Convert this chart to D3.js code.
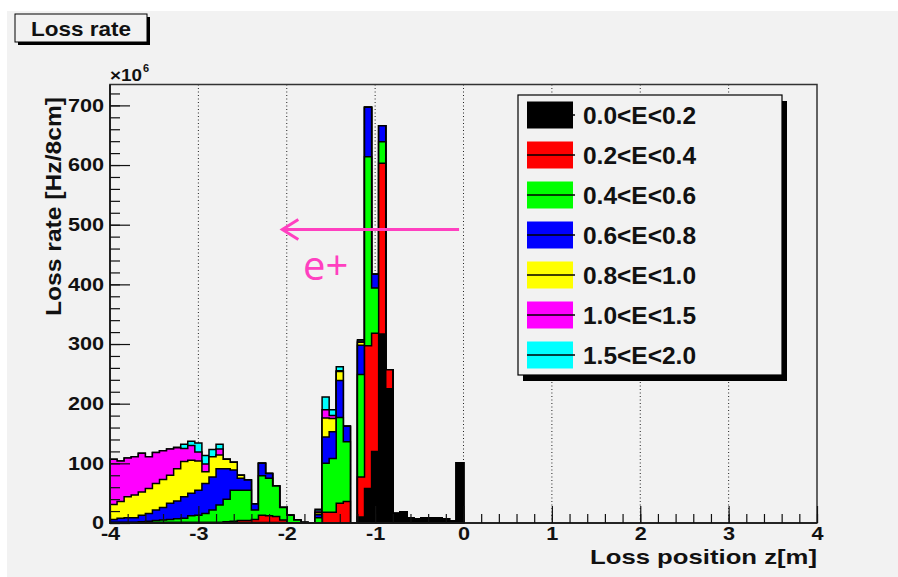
<!DOCTYPE html>
<html>
<head>
<meta charset="utf-8">
<script src="https://d3js.org/d3.v7.min.js"></script>
<style>
body { margin: 0; background: #ffffff; }
svg { display: block; font-family: "Liberation Sans", Arial, Helvetica, sans-serif; }
</style>
</head>
<body>
<div id="chart"></div>
<script>
// 8 cm bins from z = -4.00 m up to z = 0.00 m (nothing is lost downstream of 0)
const zStart = -4;
const binWidth = 0.08;

// loss rate per bin, in units of 1e6 Hz / 8 cm, one array per energy slice
const lossE00_02 = [1,1,1,1,1,1,1,1,1,1, 1,1,1,1,1,1,1,1,1,1, 1,1,1,1,1,0,0,1,0,0, 0,0,0,0,0,10,58,120,317,225, 16,19,8,7,9,9,8,7,3,101];
const lossE02_04 = [0,0,0,0,0,0,0,0,0,0, 0,0,0,0,0,0,1,2,3,3, 5,12,11,10,4,0,0,0,0,0, 18,18,33,36,0,67,239,198,286,32, 0,0,0,0,0,0,0,0,0,0];
const lossE04_06 = [0,0,0,0,1,2,3,4,5,6, 7,11,12,15,21,29,38,52,51,51, 16,66,63,51,21,13,5,0,0,9, 82,90,144,100,0,172,317,76,36,0, 0,0,0,0,0,0,0,0,0,0];
const lossE06_08 = [5,7,8,8,11,13,18,21,27,30, 36,38,42,50,55,61,51,34,20,17, 10,21,8,0,0,0,0,0,0,5, 44,45,62,26,0,49,83,23,27,0, 0,0,0,0,0,0,0,0,0,0];
const lossE08_10 = [25,28,35,38,39,42,44,47,47,54, 59,55,49,20,34,23,16,13,5,0, 0,0,0,0,0,0,0,0,0,3, 32,22,15,0,0,5,0,0,0,0, 0,0,0,0,0,0,0,0,0,0];
const lossE10_15 = [76,68,65,64,65,53,52,48,44,35, 22,25,15,13,0,10,0,0,0,0, 0,0,0,0,0,0,0,0,0,3, 14,5,1,0,0,2,0,0,0,0, 0,0,0,0,0,0,0,0,0,0];
const lossE15_20 = [0,0,0,0,0,0,0,0,0,1, 7,7,15,14,12,8,0,0,0,0, 0,0,0,0,0,0,0,0,0,3, 21,10,7,0,0,2,0,0,0,0, 0,0,0,0,0,0,0,0,0,0];

const seriesNames = ["0.0<E<0.2", "0.2<E<0.4", "0.4<E<0.6", "0.6<E<0.8", "0.8<E<1.0", "1.0<E<1.5", "1.5<E<2.0"];
const seriesColors = ["#000000", "#ff0000", "#00ff00", "#0000ff", "#ffff00", "#ff00ff", "#00ffff"];
const xTicks = [-4, -3, -2, -1, 0, 1, 2, 3, 4];
const yTicks = [0, 100, 200, 300, 400, 500, 600, 700];

const w = 898;
const h = 577;
const fLeft = 110, fRight = 817, fTop = 84.5, fBottom = 523;
const pink = "#ff40c0";

// stretch text a bit horizontally, the ROOT picture is wider than its fonts
function stretch(sel, k) {
    sel.each(function() {
        const len = this.getComputedTextLength();
        d3.select(this).attr("textLength", len * k).attr("lengthAdjust", "spacingAndGlyphs");
    });
}

const svg = d3.select("#chart")
    .append("svg")
    .attr("width", w)
    .attr("height", h);

// canvas
svg.append("rect")
    .attr("x", 7).attr("y", 11)
    .attr("width", w - 7).attr("height", h - 11)
    .attr("fill", "#f2f2f2");

const xScale = d3.scaleLinear().domain([-4, 4]).range([fLeft, fRight]);
const yScale = d3.scaleLinear().domain([0, 735]).range([fBottom, fTop]);

// dotted vertical grid
svg.append("g")
    .selectAll("line")
    .data(xTicks.slice(1, -1))
    .enter()
    .append("line")
    .attr("x1", d => xScale(d)).attr("x2", d => xScale(d))
    .attr("y1", fTop).attr("y2", fBottom)
    .attr("stroke", "#222")
    .attr("stroke-width", 1)
    .attr("stroke-dasharray", "1,2.5");

// rows for the stack, plus a closing point at z = 0
const series = [lossE00_02, lossE02_04, lossE04_06, lossE06_08, lossE08_10, lossE10_15, lossE15_20];
const keys = seriesNames;
const rows = lossE00_02.map((v, i) => {
    const r = { z: zStart + i * binWidth };
    keys.forEach((k, j) => r[k] = series[j][i]);
    return r;
});
const endRow = { z: zStart + rows.length * binWidth };
keys.forEach(k => endRow[k] = 0);
rows.push(endRow);

const layers = d3.stack().keys(keys)(rows);

const area = d3.area()
    .x(d => xScale(d.data.z))
    .y0(yScale(0))
    .y1(d => yScale(d[1]))
    .curve(d3.curveStepAfter);

// ROOT style: draw the cumulative sums from the top one down
svg.append("g")
    .selectAll("path")
    .data(layers.slice().reverse())
    .enter()
    .append("path")
    .attr("d", area)
    .attr("fill", d => seriesColors[d.index])
    .attr("stroke", "#000")
    .attr("stroke-width", 1.5)
    .attr("stroke-linejoin", "miter");

// frame
svg.append("rect")
    .attr("x", fLeft).attr("y", fTop)
    .attr("width", fRight - fLeft).attr("height", fBottom - fTop)
    .attr("fill", "none")
    .attr("stroke", "#333")
    .attr("stroke-width", 1.5);

// y axis
const yAxis = d3.axisLeft(yScale).tickValues(yTicks).tickSize(-20).tickPadding(6);
const yMinor = d3.axisLeft(yScale).tickValues(d3.range(0, 735, 20)).tickSize(-10).tickFormat("");
const gy = svg.append("g").attr("id", "y-axis").attr("transform", `translate(${fLeft},0)`);
gy.call(yMinor);
gy.append("g").call(yAxis);
gy.selectAll(".domain").remove();
gy.selectAll("line").attr("stroke", "#111").attr("stroke-width", 1.2);
const yLabels = gy.selectAll("text").filter(function() { return this.textContent !== ""; });
yLabels
    .attr("font-size", 18.5).attr("font-weight", "bold")
    .attr("font-family", "Liberation Sans, Arial, sans-serif")
    .attr("fill", "#111");
stretch(yLabels, 1.17);

// x axis
const xAxis = d3.axisBottom(xScale).tickValues(xTicks).tickSize(-17).tickPadding(4).tickFormat(d3.format("d"));
const xMinor = d3.axisBottom(xScale).tickValues(d3.range(-40, 41, 2).map(d => d / 10)).tickSize(-9).tickFormat("");
const gx = svg.append("g").attr("id", "x-axis").attr("transform", `translate(0,${fBottom})`);
gx.call(xMinor);
gx.append("g").call(xAxis);
gx.selectAll(".domain").remove();
gx.selectAll("line").attr("stroke", "#111").attr("stroke-width", 1.2);
const xLabels = gx.selectAll("text").filter(function() { return this.textContent !== ""; });
xLabels
    .text(function() { return this.textContent.replace("−", "-"); })
    .attr("font-size", 18.5).attr("font-weight", "bold")
    .attr("font-family", "Liberation Sans, Arial, sans-serif")
    .attr("fill", "#111");
stretch(xLabels, 1.17);

// axis lines on top
svg.append("line").attr("x1", fLeft).attr("x2", fLeft).attr("y1", fTop).attr("y2", fBottom)
    .attr("stroke", "#111").attr("stroke-width", 1.6);
svg.append("line").attr("x1", fLeft).attr("x2", fRight).attr("y1", fBottom).attr("y2", fBottom)
    .attr("stroke", "#111").attr("stroke-width", 1.6);

// axis titles
svg.append("text")
    .attr("transform", `translate(61,97) rotate(-90)`)
    .attr("text-anchor", "end")
    .attr("font-size", 22).attr("font-weight", "bold")
    .attr("fill", "#111")
    .attr("textLength", 219).attr("lengthAdjust", "spacingAndGlyphs")
    .text("Loss rate [Hz/8cm]");

svg.append("text")
    .attr("x", fRight).attr("y", 564)
    .attr("text-anchor", "end")
    .attr("font-size", 21).attr("font-weight", "bold")
    .attr("fill", "#111")
    .attr("textLength", 227).attr("lengthAdjust", "spacingAndGlyphs")
    .text("Loss position z[m]");

// x10^6 multiplier
svg.append("text")
    .attr("x", fLeft).attr("y", 81)
    .attr("font-size", 17).attr("font-weight", "bold").attr("fill", "#111")
    .attr("textLength", 32).attr("lengthAdjust", "spacingAndGlyphs")
    .text("×10");
svg.append("text")
    .attr("x", fLeft + 33).attr("y", 72)
    .attr("font-size", 11).attr("font-weight", "bold").attr("fill", "#111")
    .text("6");

// title box
svg.append("rect").attr("x", 18).attr("y", 17).attr("width", 132).attr("height", 28).attr("fill", "#000");
svg.append("rect").attr("x", 15).attr("y", 14).attr("width", 132).attr("height", 28)
    .attr("fill", "#f2f2f2").attr("stroke", "#000").attr("stroke-width", 1);
svg.append("text")
    .attr("x", 31).attr("y", 36)
    .attr("font-size", 21).attr("font-weight", "bold").attr("fill", "#111")
    .attr("textLength", 100).attr("lengthAdjust", "spacingAndGlyphs")
    .text("Loss rate");

// legend
const lg = { x: 518, y: 95, w: 264, h: 280 };
svg.append("rect").attr("x", lg.x + 5).attr("y", lg.y + 6).attr("width", lg.w).attr("height", lg.h).attr("fill", "#000");
svg.append("rect").attr("x", lg.x).attr("y", lg.y).attr("width", lg.w).attr("height", lg.h)
    .attr("fill", "#f2f2f2").attr("stroke", "#000").attr("stroke-width", 1.2);

const entry = svg.append("g")
    .selectAll("g")
    .data(seriesNames)
    .enter()
    .append("g")
    .attr("transform", (d, i) => `translate(${lg.x + 9},${lg.y + 20 + i * 40})`);
entry.append("rect")
    .attr("x", 0).attr("y", -13.5).attr("width", 46).attr("height", 27)
    .attr("fill", (d, i) => seriesColors[i]);
entry.append("line")
    .attr("x1", 0).attr("x2", 48).attr("y1", 0).attr("y2", 0)
    .attr("stroke", "#000").attr("stroke-width", 1.5);
entry.append("text")
    .attr("x", 56).attr("y", 8.5)
    .attr("font-size", 23).attr("font-weight", "bold").attr("fill", "#111")
    .attr("textLength", 113).attr("lengthAdjust", "spacingAndGlyphs")
    .text(d => d);

// e+ direction arrow
const ay = yScale(492);
svg.append("line")
    .attr("x1", xScale(-0.05)).attr("x2", xScale(-2.05))
    .attr("y1", ay).attr("y2", ay)
    .attr("stroke", pink).attr("stroke-width", 3);
svg.append("path")
    .attr("d", `M${xScale(-2.05) + 16},${ay - 10} L${xScale(-2.05)},${ay} L${xScale(-2.05) + 16},${ay + 10}`)
    .attr("fill", "none").attr("stroke", pink).attr("stroke-width", 3);
svg.append("text")
    .attr("x", 303).attr("y", 280)
    .attr("font-family", "'Open Sans', 'Noto Sans', sans-serif")
    .attr("font-size", 40).attr("fill", pink)
    .text("e+");
</script>
</body>
</html>
